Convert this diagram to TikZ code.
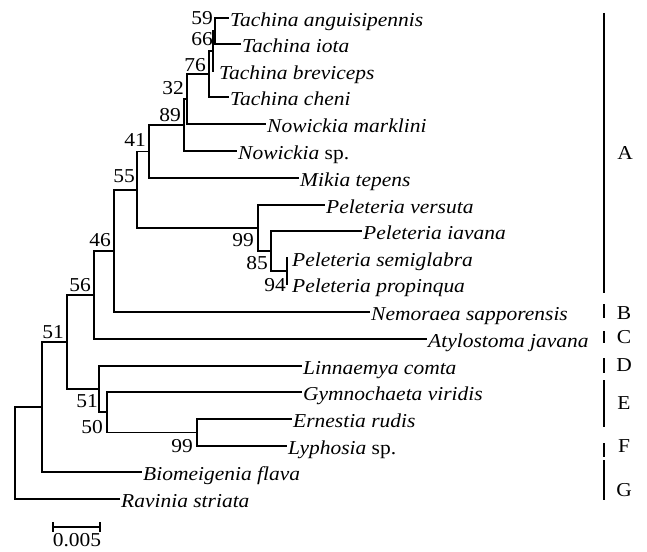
\documentclass[tikz,border=0pt]{standalone}
\usepackage{fontspec}
\setmainfont[FakeStretch=1.09]{Liberation Serif}
\begin{document}
\begin{tikzpicture}[x=1pt,y=-1pt,
  br/.style={line width=1.8pt},
  bar/.style={line width=2.2pt},
  tax/.style={anchor=base west, inner sep=0pt, font=\fontsize{19.7}{22}\selectfont\itshape},
  bs/.style={inner sep=0pt, font=\fontsize{19.7}{22}\selectfont},
  grp/.style={inner sep=0pt, font=\fontsize{19.7}{22}\selectfont}]
\useasboundingbox (0,0) rectangle (647,551);
\fill[white] (0,0) rectangle (647,551);
% leaf end points
\coordinate (e1) at (229,18);
\coordinate (e2) at (241,44);
\coordinate (e3) at (214,71);
\coordinate (e4) at (229,97);
\coordinate (e5) at (266,124);
\coordinate (e6) at (237,151);
\coordinate (e7) at (299,178);
\coordinate (e8) at (325,205);
\coordinate (e9) at (362,231);
\coordinate (e10) at (288,258);
\coordinate (e11) at (288,284);
\coordinate (e12) at (370,312);
\coordinate (e13) at (427,339);
\coordinate (e14) at (302,366);
\coordinate (e15) at (302,392);
\coordinate (e16) at (292,419);
\coordinate (e17) at (287,446);
\coordinate (e18) at (142,472);
\coordinate (e19) at (120,499);
% taxon labels
\node[tax] (t1) at (230,26.5) {Tachina anguisipennis};
\node[tax] (t2) at (242,52.5) {Tachina iota};
\node[tax] (t3) at (219,79.5) {Tachina breviceps};
\node[tax] (t4) at (230,105.5) {Tachina cheni};
\node[tax] (t5) at (267,132.5) {Nowickia marklini};
\node[tax] (t6) at (238,159.5) {Nowickia\/ \textup{sp.}};
\node[tax] (t7) at (300,186.5) {Mikia tepens};
\node[tax] (t8) at (326,213.5) {Peleteria versuta};
\node[tax] (t9) at (363,239.5) {Peleteria iavana};
\node[tax] (t10) at (292,266.5) {Peleteria semiglabra};
\node[tax] (t11) at (292,292.5) {Peleteria propinqua};
\node[tax] (t12) at (371,320.5) {Nemoraea sapporensis};
\node[tax] (t13) at (428,347.5) {Atylostoma javana};
\node[tax] (t14) at (303,374.5) {Linnaemya comta};
\node[tax] (t15) at (303,400.5) {Gymnochaeta viridis};
\node[tax] (t16) at (293,427.5) {Ernestia rudis};
\node[tax] (t17) at (288,454.5) {Lyphosia\/ \textup{sp.}};
\node[tax] (t18) at (143,480.5) {Biomeigenia flava};
\node[tax] (t19) at (121,507.5) {Ravinia striata};
% internal nodes
\coordinate (n59) at (215,31);
\coordinate (n66) at (213,51);
\coordinate (n76) at (209,74);
\coordinate (n32) at (187,99);
\coordinate (n89) at (184,125);
\coordinate (n41) at (149,151.5);
\coordinate (n94) at (287,271);
\coordinate (n85) at (271,251);
\coordinate (n99P) at (258,228);
\coordinate (n55) at (137,190);
\coordinate (n46) at (114,251);
\coordinate (n56) at (94,295);
\coordinate (n99E) at (197,432.5);
\coordinate (n50) at (107,412);
\coordinate (n51b) at (99,389);
\coordinate (n51a) at (67,342);
\coordinate (nX) at (42,407);
\coordinate (root) at (15,453);
% branches
\draw[br] (n59) |- (e1);  \draw[br] (n59) |- (e2);
\draw[br] (n66) |- (n59); \draw[br] (n66) |- (e3);
\draw[br] (n76) |- (n66); \draw[br] (n76) |- (e4);
\draw[br] (n32) |- (n76); \draw[br] (n32) |- (e5);
\draw[br] (n89) |- (n32); \draw[br] (n89) |- (e6);
\draw[br] (n41) |- (n89); \draw[br] (n41) |- (e7);
\draw[br] (n55) |- (n41); \draw[br] (n55) |- (n99P);
\draw[br] (n99P) |- (e8); \draw[br] (n99P) |- (n85);
\draw[br] (n85) |- (e9);  \draw[br] (n85) |- (n94);
\draw[br] (n94) |- (e10); \draw[br] (n94) |- (e11);
\draw[br] (n46) |- (n55); \draw[br] (n46) |- (e12);
\draw[br] (n56) |- (n46); \draw[br] (n56) |- (e13);
\draw[br] (n51a) |- (n56); \draw[br] (n51a) |- (n51b);
\draw[br] (n51b) |- (e14); \draw[br] (n51b) |- (n50);
\draw[br] (n50) |- (e15); \draw[br] (n50) |- (n99E);
\draw[br] (n99E) |- (e16); \draw[br] (n99E) |- (e17);
\draw[br] (nX) |- (n51a); \draw[br] (nX) |- (e18);
\draw[br] (root) |- (nX); \draw[br] (root) |- (e19);
% bootstrap values
\node[bs] (b59) at (202,18) {59};
\node[bs] (b66) at (202,39) {66};
\node[bs] (b76) at (195,65) {76};
\node[bs] (b32) at (173,88) {32};
\node[bs] (b89) at (170,115) {89};
\node[bs] (b41) at (135,140) {41};
\node[bs] (b55) at (124,176) {55};
\node[bs] (b46) at (100,240) {46};
\node[bs] (b56) at (80,285) {56};
\node[bs] (b51a) at (53,332) {51};
\node[bs] (b51b) at (87,401) {51};
\node[bs] (b50) at (92,427) {50};
\node[bs] (b99E) at (182,446) {99};
\node[bs] (b99P) at (243,240) {99};
\node[bs] (b85) at (257,263) {85};
\node[bs] (b94) at (275,285) {94};
% clade bars
\coordinate (Aa) at (604,13);  \coordinate (Ab) at (604,293);
\coordinate (Ba) at (604,304); \coordinate (Bb) at (604,318);
\coordinate (Ca) at (604,331); \coordinate (Cb) at (604,343);
\coordinate (Da) at (604,358); \coordinate (Db) at (604,373);
\coordinate (Ea) at (604,380); \coordinate (Eb) at (604,427);
\coordinate (Fa) at (604,443); \coordinate (Fb) at (604,457);
\coordinate (Ga) at (604,460); \coordinate (Gb) at (604,500);
\draw[bar] (Aa) -- (Ab);
\draw[bar] (Ba) -- (Bb);
\draw[bar] (Ca) -- (Cb);
\draw[bar] (Da) -- (Db);
\draw[bar] (Ea) -- (Eb);
\draw[bar] (Fa) -- (Fb);
\draw[bar] (Ga) -- (Gb);
\node[grp] (gA) at (625,153) {A};
\node[grp] (gB) at (624,313) {B};
\node[grp] (gC) at (624,337) {C};
\node[grp] (gD) at (624,365) {D};
\node[grp] (gE) at (624,403) {E};
\node[grp] (gF) at (624,446) {F};
\node[grp] (gG) at (624,490) {G};
% scale bar
\coordinate (s1) at (53,527);
\coordinate (s2) at (100,527);
\draw[br] (s1) -- (s2);
\draw[br] ([yshift=5pt]s1) -- ([yshift=-5pt]s1);
\draw[br] ([yshift=5pt]s2) -- ([yshift=-5pt]s2);
\node[bs] (sl) at (77,540) {0.005};
\end{tikzpicture}
\end{document}
